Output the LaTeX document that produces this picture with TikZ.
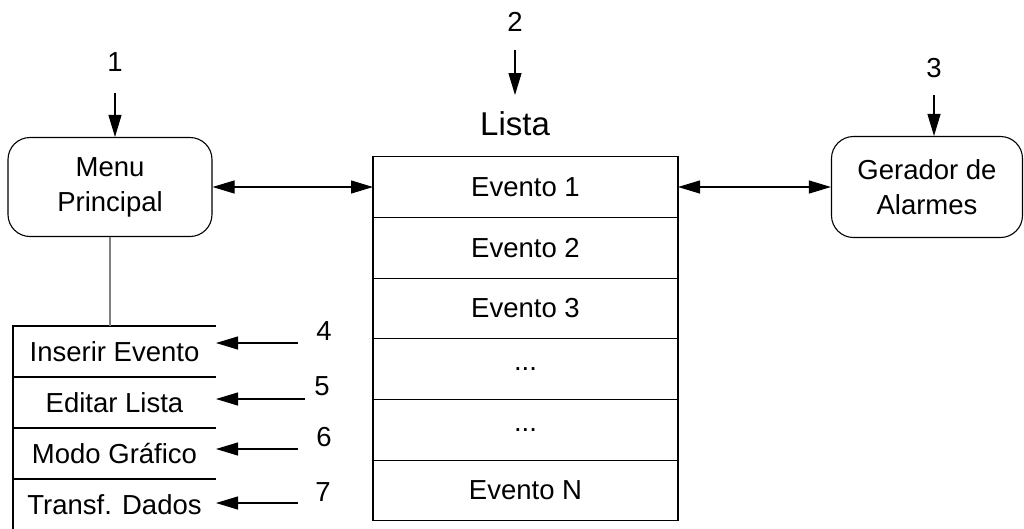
\documentclass[tikz,border=0pt]{standalone}
\usepackage{fontspec}
\setmainfont{Liberation Sans}
\usetikzlibrary{arrows.meta,positioning}

\begin{document}
\begin{tikzpicture}[x=1pt,y=-1pt,line width=1.1pt,
    txt/.style={font=\fontsize{27.5}{35}\selectfont},
    block/.style={txt,draw,rounded corners=22pt,align=center,inner sep=0pt},
    cell/.style={txt,draw,minimum width=305pt,minimum height=60.7pt,inner sep=0pt,outer sep=0pt},
    item/.style={txt,minimum width=203pt,minimum height=51pt,inner sep=0pt,outer sep=0pt},
    link/.style={-{Triangle[length=22pt,width=13pt]}},
    both/.style={{Triangle[length=22pt,width=13pt]}-{Triangle[length=22pt,width=13pt]}}]

  \useasboundingbox (0,0) rectangle (1024,528);

  % Define vertices
  \node[block,minimum width=204pt,minimum height=99pt] (menu) at (110,187) {Menu\\Principal};
  \node[block,minimum width=191pt,minimum height=101pt] (alarm) at (927,187) {Gerador de\\Alarmes};

  \node[font=\fontsize{33}{36}\selectfont] (title) at (515,124) {Lista};
  \node[cell] (e1) at (525.5,187) {Evento 1};
  \node[cell,below=0pt of e1] (e2) {Evento 2};
  \node[cell,below=0pt of e2] (e3) {Evento 3};
  \node[cell,below=0pt of e3] (e4) {...};
  \node[cell,below=0pt of e4] (e5) {...};
  \node[cell,below=0pt of e5] (eN) {Evento N};

  % Menu options
  \node[item,anchor=north west] (i1) at (13,326) {Inserir Evento};
  \node[item,below=0pt of i1] (i2) {Editar Lista};
  \node[item,below=0pt of i2] (i3) {Modo Gráfico};
  \node[item,below=0pt of i3] (i4) {Transf. Dados};
  \draw (i1.north east) -- (i1.north west) -- (i4.south west);
  \draw (i2.north west) -- (i2.north east);
  \draw (i3.north west) -- (i3.north east);
  \draw (i4.north west) -- (i4.north east);

  % Numbers
  \node[txt] (n1) at (115,62) {1};
  \node[txt] (n2) at (515,22) {2};
  \node[txt] (n3) at (934,68) {3};
  \node[txt] (n4) at (324,331) {4};
  \node[txt] (n5) at (322,386) {5};
  \node[txt] (n6) at (324,437) {6};
  \node[txt] (n7) at (323,492) {7};
  \coordinate (t1) at (115,93);
  \coordinate (t2) at (515,50);
  \coordinate (h2) at (515,95);
  \coordinate (t3) at (934,95);
  \coordinate (t4) at (298,343);
  \coordinate (t5) at (305,399);
  \coordinate (t6) at (298,449);
  \coordinate (t7) at (298,503);

  % Connectors
  \draw[link] (t1) -- (t1 |- menu.north);
  \draw[link] (t2) -- (h2);
  \draw[link] (t3) -- (t3 |- alarm.north);
  \draw[both] (menu) -- (e1);
  \draw[both] (e1) -- (alarm);
  \draw[gray] (menu.south) -- (menu.south |- i1.north);
  \draw[link] (t4) -- (t4 -| i1.east);
  \draw[link] (t5) -- (t5 -| i2.east);
  \draw[link] (t6) -- (t6 -| i3.east);
  \draw[link] (t7) -- (t7 -| i4.east);

\end{tikzpicture}
\end{document}
